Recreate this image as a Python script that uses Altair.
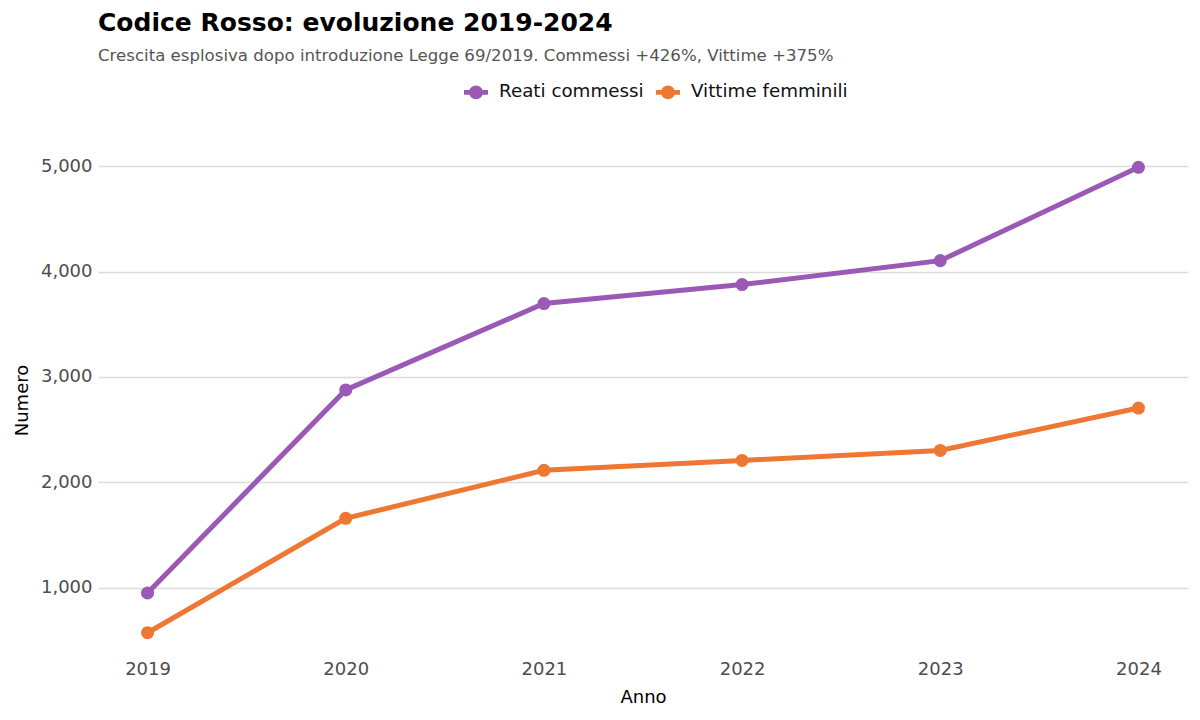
import altair as alt
import pandas as pd

anni = [2019, 2020, 2021, 2022, 2023, 2024]
reati_commessi = [950, 2877, 3697, 3877, 4104, 4990]
vittime_femminili = [573, 1659, 2114, 2208, 2303, 2705]
serie = ["Reati commessi", "Vittime femminili"]
colori = ["#9B59B6", "#EE7733"]

rows = []
for a, r, v in zip(anni, reati_commessi, vittime_femminili):
    rows.append({"Anno": a, "Valore": r, "Serie": serie[0], "Linea": serie[0]})
    rows.append({"Anno": a, "Valore": v, "Serie": serie[1], "Linea": serie[1]})
df = pd.DataFrame(rows)

legend_sym = ("M-1,-0.2 H1 V0.2 H-1 Z "
              "M-0.58,0 A0.58,0.58 0 1,1 0.58,0 A0.58,0.58 0 1,1 -0.58,0 Z")

scale_c = alt.Scale(domain=serie, range=colori)
color_pts = alt.Color(
    "Serie:N",
    scale=scale_c,
    legend=alt.Legend(
        title=None, orient="none", direction="horizontal",
        legendX=366, legendY=-64,
        symbolType=legend_sym, symbolSize=576, symbolStrokeWidth=0,
        symbolOpacity=1,
        labelFontSize=18.3, labelFont="DejaVu Sans", labelColor="#111111",
        symbolOffset=0, columnPadding=12, labelOffset=11,
    ),
)
color_lin = alt.Color("Linea:N", scale=scale_c, legend=None)

x = alt.X("Anno:Q", scale=alt.Scale(domain=[2018.75, 2024.25], nice=False, zero=False),
          axis=alt.Axis(values=anni, format="d", grid=False, title="Anno",
                        labelPadding=4, titlePadding=10))
y = alt.Y("Valore:Q", scale=alt.Scale(domain=[352, 5211], nice=False, zero=False),
          axis=alt.Axis(values=[1000, 2000, 3000, 4000, 5000], format=",.0f", title="Numero",
                        labelPadding=6, titlePadding=9))

lines = alt.Chart(df).mark_line(strokeWidth=5).encode(x=x, y=y, color=color_lin)
points = alt.Chart(df).mark_circle(size=170, opacity=1).encode(x=x, y=y, color=color_pts)

chart = alt.layer(lines, points).resolve_scale(color="independent").properties(
    width=1090, height=512,
    autosize=alt.AutoSizeParams(type="none"),
    padding={"left": 90, "top": 136, "right": 4, "bottom": 56},
    title=alt.TitleParams(
        text="Codice Rosso: evoluzione 2019-2024",
        subtitle="Crescita esplosiva dopo introduzione Legge 69/2019. Commessi +426%, Vittime +375%",
        anchor="start", frame="group", font="DejaVu Sans", fontSize=25, fontWeight="bold",
        color="#000000", subtitleFont="DejaVu Sans", subtitleFontSize=16.6,
        subtitleColor="#555555", subtitlePadding=12, offset=15,
    ),
).configure_view(stroke=None).configure_axis(
    domain=False, ticks=False, gridColor="#dcdcdc", gridWidth=1.5,
    labelFont="DejaVu Sans", labelFontSize=18, labelColor="#4d4d4d",
    titleFont="DejaVu Sans", titleFontSize=18, titleFontWeight="normal", titleColor="#000000",
)

chart.save("out.html", embed_options={"renderer": "svg", "actions": False})
